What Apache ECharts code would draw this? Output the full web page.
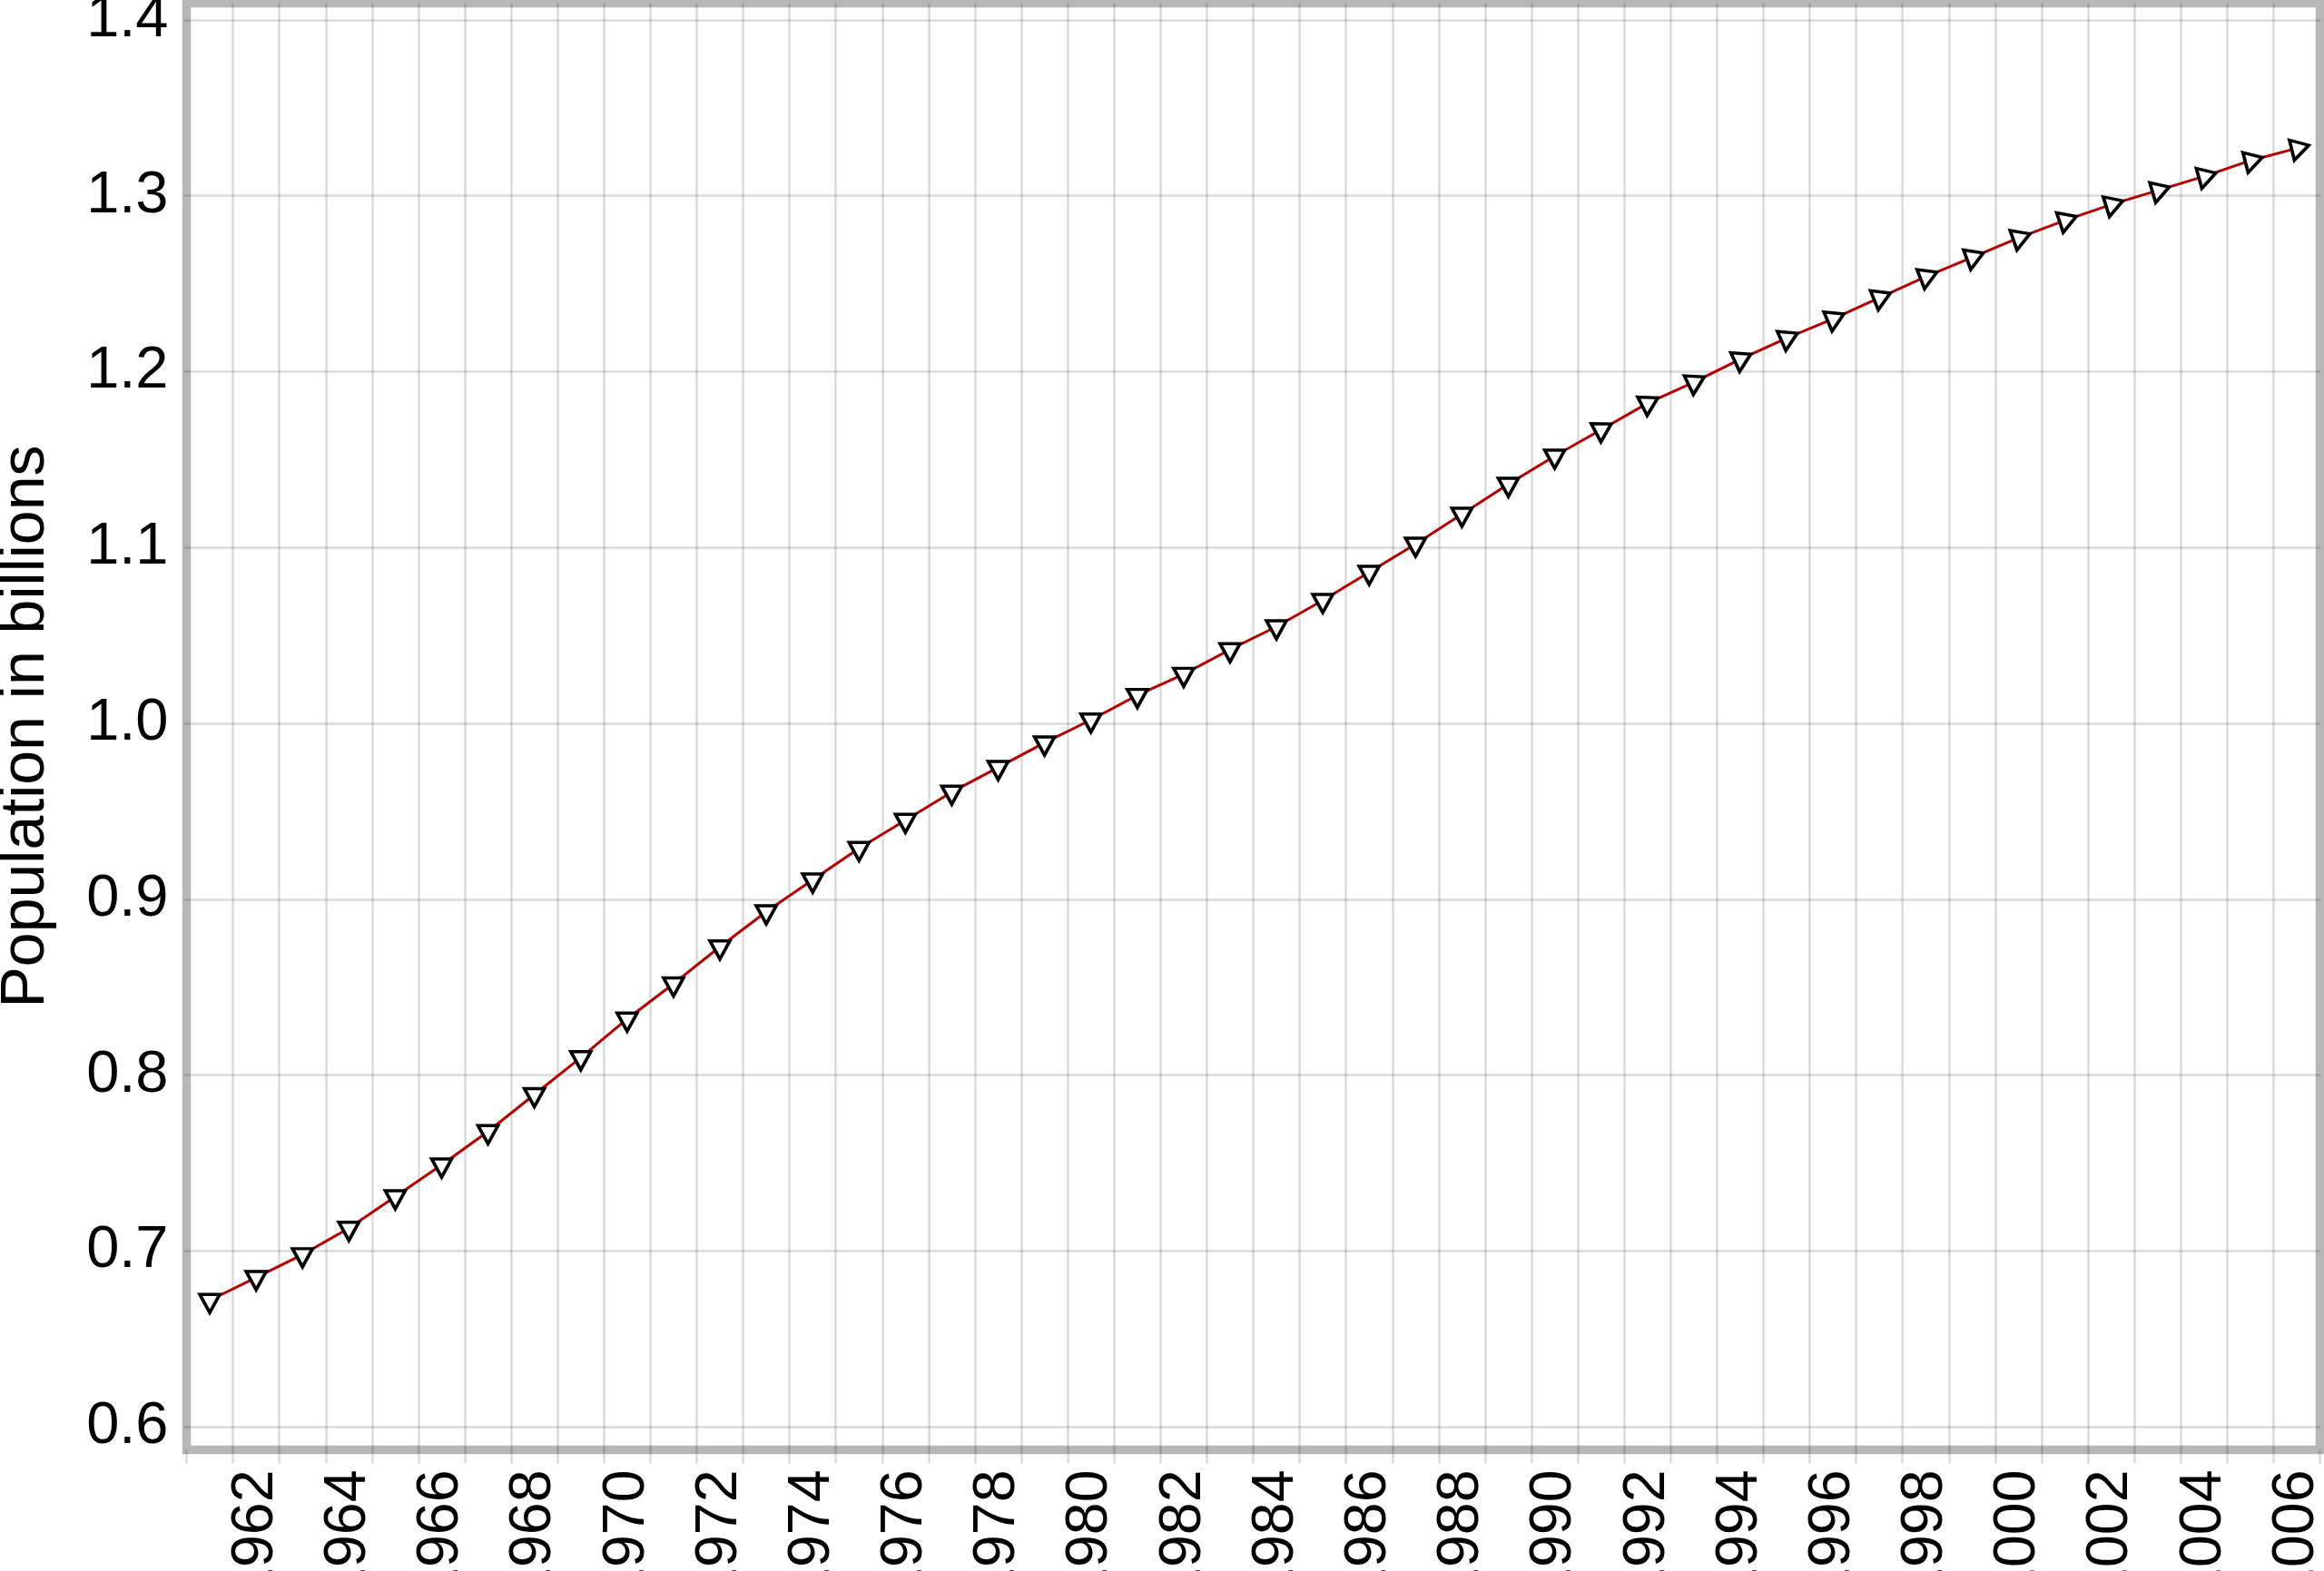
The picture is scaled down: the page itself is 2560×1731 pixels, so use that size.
<!DOCTYPE html>
<html>
<head>
<meta charset="utf-8">
<script src="https://cdn.jsdelivr.net/npm/echarts@6/dist/echarts.min.js"></script>
<style>
  html, body { margin: 0; padding: 0; background: #ffffff; }
  #chart { width: 2560px; height: 1731px; }
</style>
</head>
<body>
<div id="chart"></div>
<script>
// ---- data ----
const years = [
  '1961','1962','1963','1964','1965','1966','1967','1968','1969','1970',
  '1971','1972','1973','1974','1975','1976','1977','1978','1979','1980',
  '1981','1982','1983','1984','1985','1986','1987','1988','1989','1990',
  '1991','1992','1993','1994','1995','1996','1997','1998','1999','2000',
  '2001','2002','2003','2004','2005','2006'
];
const population = [
  0.672, 0.685, 0.698, 0.713, 0.731, 0.749, 0.768, 0.789, 0.810, 0.832,
  0.852, 0.873, 0.893, 0.911, 0.929, 0.945, 0.961, 0.975, 0.989, 1.002,
  1.016, 1.028, 1.042, 1.055, 1.070, 1.086, 1.102, 1.119, 1.136, 1.152,
  1.167, 1.182, 1.194, 1.207, 1.219, 1.230, 1.242, 1.254, 1.265, 1.276,
  1.286, 1.295, 1.303, 1.311, 1.320, 1.327
];
const yAxisName = 'Population in billions';
const yMin = 0.587;
const yMax = 1.4095;

const gridColor = 'rgba(0,0,0,0.14)';
const font = 'Liberation Sans';

const chart = echarts.init(document.getElementById('chart'), null, { renderer: 'canvas' });
chart.setOption({
  animation: false,
  backgroundColor: '#ffffff',
  grid: {
    left: 205.5, right: 4.5, top: 3.5, bottom: 133.5,
    containLabel: false,
    outerBoundsMode: 'none',
    show: true,
    backgroundColor: '#ffffff',
    borderColor: '#b7b7b7',
    borderWidth: 9.5
  },
  xAxis: {
    type: 'category',
    data: years,
    boundaryGap: true,
    axisLine: { show: false },
    axisTick: {
      show: true, interval: 0, length: 15,
      lineStyle: { color: gridColor, width: 2.5 }
    },
    splitLine: {
      show: true, interval: 0,
      showMinLine: false, showMaxLine: false,
      lineStyle: { color: gridColor, width: 2.5 }
    },
    axisLabel: {
      interval: function (index) { return index % 2 === 1; },
      rotate: 90,
      margin: 22,
      fontSize: 64.5,
      fontFamily: font,
      color: '#000000'
    }
  },
  yAxis: {
    type: 'value',
    min: yMin,
    max: yMax,
    splitNumber: 8,
    name: yAxisName,
    nameLocation: 'middle',
    nameGap: 142,
    nameTextStyle: { fontSize: 68, fontFamily: font, color: '#000000' },
    axisLine: { show: false },
    axisTick: { show: true, length: 3, lineStyle: { color: gridColor, width: 2.5 } },
    splitLine: {
      show: true, showMinLine: false, showMaxLine: false,
      lineStyle: { color: gridColor, width: 2.5 }
    },
    axisLabel: {
      margin: 20,
      fontSize: 65,
      fontFamily: font,
      color: '#000000',
      padding: [16, 0, 0, 0],
      showMinLabel: false,
      showMaxLabel: false,
      formatter: function (v) { return v.toFixed(1); }
    }
  },
  series: [{
    type: 'line',
    data: population,
    showAllSymbol: true,
    symbol: 'triangle',
    symbolSize: [22, 20],
    symbolOffset: [0, 3.5],
    symbolRotate: function (value, params) {
      return 180 - Math.max(0, params.dataIndex - 29) * 0.95;
    },
    lineStyle: { color: '#b30000', width: 3 },
    itemStyle: { color: '#ffffff', borderColor: '#000000', borderWidth: 3.6 },
    emphasis: { disabled: true }
  }]
});
</script>
</body>
</html>
